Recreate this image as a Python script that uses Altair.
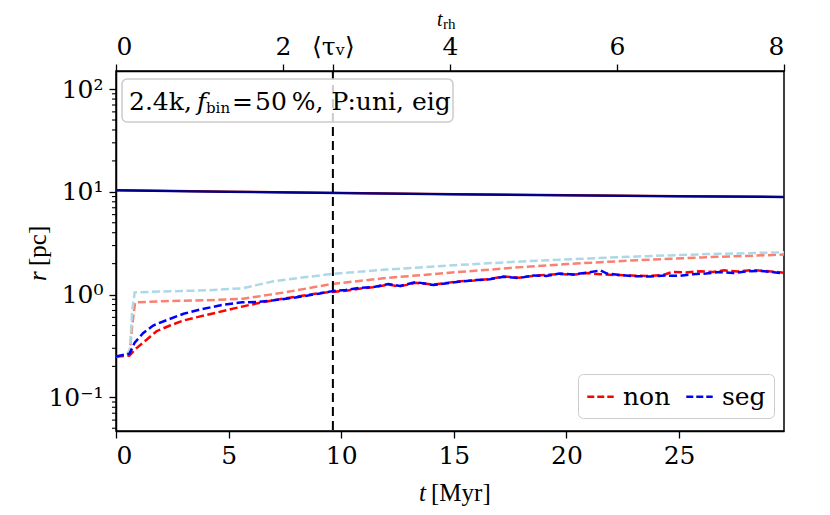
import altair as alt
import pandas as pd

# ---------------- data ----------------
T_MAX = 29.66          # Myr, right edge of the plot
TRH_MAX = 8            # top axis, in units of t_rh
TAU_V = 9.63           # Myr, vertical dashed line <tau_v>

t_solid = [0, 5, 10, 15, 20, 25, 29.66]
r_solid_non = [10.4, 10.05, 9.75, 9.5, 9.3, 9.1, 8.95]
r_solid_seg = [10.35, 10.0, 9.7, 9.45, 9.25, 9.05, 8.9]

t_outer_seg = [0, 0.45, 0.62, 0.72, 0.83, 2, 4, 5.6, 7, 9.6, 12, 14.8, 18, 21, 24.3, 27, 29.66]
r_outer_seg = [0.25, 0.255, 0.29, 0.7, 1.05, 1.07, 1.1, 1.15, 1.35, 1.59, 1.75, 1.92, 2.1, 2.25, 2.4, 2.5, 2.58]

t_outer_non = [0, 0.6, 0.72, 0.85, 2, 4, 5.65, 7.5, 9.6, 12, 14.8, 18, 20, 22.8, 26, 29.66]
r_outer_non = [0.25, 0.26, 0.5, 0.84, 0.86, 0.88, 0.91, 1.05, 1.27, 1.45, 1.63, 1.85, 1.98, 2.14, 2.3, 2.45]

t_core_non = [0, 0.6, 0.9, 1.4, 1.8, 2.4, 3.0, 3.7, 4.5, 5.2, 5.9, 6.6, 7.4, 8.2, 9.0, 9.6,
              10.2, 10.8, 11.4, 12.1, 12.6, 13.3, 14.1, 14.7, 15.3, 15.9, 16.6, 17.2, 17.9,
              18.5, 19.1, 19.7, 20.3, 20.9, 21.5, 22.2, 22.9, 23.6, 24.3, 24.7, 25.3, 25.9,
              26.5, 27.0, 27.6, 28.2, 28.8, 29.3, 29.66]
r_core_non = [0.25, 0.255, 0.3, 0.37, 0.44, 0.5, 0.56, 0.61, 0.67, 0.73, 0.79, 0.85, 0.91, 0.97,
              1.03, 1.06, 1.09, 1.14, 1.18, 1.25, 1.2, 1.3, 1.25, 1.3, 1.35, 1.37, 1.42, 1.5,
              1.46, 1.52, 1.55, 1.59, 1.56, 1.62, 1.58, 1.55, 1.53, 1.52, 1.55, 1.66, 1.64,
              1.69, 1.66, 1.72, 1.68, 1.73, 1.7, 1.66, 1.63]

t_core_seg = [0, 0.6, 0.83, 1.2, 1.65, 2.3, 3.0, 3.8, 4.8, 5.6, 6.3, 7.0, 7.7, 8.4, 9.0, 9.6,
              10.2, 10.8, 11.5, 12.1, 12.6, 13.3, 14.1, 14.7, 15.3, 15.9, 16.6, 17.2, 17.9,
              18.5, 19.1, 19.7, 20.3, 20.9, 21.5, 21.8, 22.4, 23.0, 23.7, 24.4, 25.0, 25.6,
              26.2, 26.8, 27.4, 28.0, 28.6, 29.2, 29.66]
r_core_seg = [0.25, 0.266, 0.34, 0.42, 0.5, 0.57, 0.65, 0.72, 0.8, 0.84, 0.85, 0.88, 0.92, 0.97,
              1.02, 1.08, 1.11, 1.16, 1.19, 1.27, 1.21, 1.32, 1.24, 1.29, 1.34, 1.38, 1.41,
              1.49, 1.45, 1.53, 1.52, 1.6, 1.57, 1.63, 1.72, 1.6, 1.55, 1.51, 1.5, 1.53, 1.52,
              1.58, 1.6, 1.66, 1.62, 1.68, 1.7, 1.65, 1.6]

series_names = ["non", "seg", "non_outer", "seg_outer", "non_solid", "seg_solid"]
series_colors = ["#ff0000", "#0000ff", "#fa8072", "#add8e6", "#8b0000", "#00008b"]

x_ticks = [0, 5, 10, 15, 20, 25]
y_ticks = [0.1, 1, 10, 100]
trh_ticks = [0, 2, 4, 6, 8]
minor_y = [0.05, 0.06, 0.07, 0.08, 0.09,
           0.2, 0.3, 0.4, 0.5, 0.6, 0.7, 0.8, 0.9,
           2, 3, 4, 5, 6, 7, 8, 9,
           20, 30, 40, 50, 60, 70, 80, 90]

# ---------------- build ----------------
FONT = "DejaVu Serif"
MATH = "Liberation Serif"
FS = 25

frames = []
for name, t, r in [("non_solid", t_solid, r_solid_non), ("seg_solid", t_solid, r_solid_seg),
                   ("non_outer", t_outer_non, r_outer_non), ("seg_outer", t_outer_seg, r_outer_seg),
                   ("non", t_core_non, r_core_non), ("seg", t_core_seg, r_core_seg)]:
    frames.append(pd.DataFrame({"series": name, "t": t, "r": r}))
df = pd.concat(frames, ignore_index=True)

x_enc = alt.X("t:Q", scale=alt.Scale(domain=[0, T_MAX], nice=False, zero=False),
              axis=alt.Axis(values=x_ticks, title=None, format="d", labelFont=FONT))
y_axis = alt.Axis(values=y_ticks, title=None, labelFont=FONT,
                  labelExpr="datum.value >= 99 ? '10²' : datum.value >= 9 ? '10¹' : datum.value >= 0.9 ? '10⁰' : '10⁻¹'")
y_scale = alt.Scale(type="log", domain=[0.047, 150], nice=False)
y_enc = alt.Y("r:Q", scale=y_scale, axis=y_axis)
color_enc = alt.Color("series:N",
                      scale=alt.Scale(domain=series_names, range=series_colors),
                      legend=alt.Legend(values=["non", "seg"], title=None, orient="none",
                                        legendX=462, legendY=303, direction="horizontal",
                                        columns=2, symbolType="stroke", symbolSize=700,
                                        symbolStrokeWidth=2.5, symbolDash=[7, 3],
                                        labelFont=FONT, labelFontSize=FS, labelColor="black",
                                        labelOffset=8, columnPadding=10, padding=8,
                                        fillColor="white", strokeColor="#cccccc",
                                        cornerRadius=5))


def line(name, dashed):
    kw = dict(strokeWidth=2.5 if dashed else 2.2, clip=True)
    if dashed:
        kw["strokeDash"] = [8, 3.5]
    return (alt.Chart(df).transform_filter(alt.datum.series == name)
            .mark_line(**kw).encode(x=x_enc, y=y_enc, color=color_enc))


minor = (alt.Chart(pd.DataFrame({"r": minor_y}))
         .mark_rule(color="black", strokeWidth=1.1)
         .encode(y=alt.Y("r:Q", scale=y_scale, axis=y_axis), x=alt.value(0), x2=alt.value(-4)))

inner = alt.layer(
    line("non_solid", False), line("seg_solid", False),
    line("non_outer", True), line("seg_outer", True),
    line("non", True), line("seg", True), minor,
)

tau_trh = TAU_V / (T_MAX / TRH_MAX)
vline = (alt.Chart(pd.DataFrame({"trh": [tau_trh]}))
         .mark_rule(color="black", strokeDash=[9, 5], strokeWidth=2)
         .encode(x=alt.X("trh:Q", scale=alt.Scale(domain=[0, TRH_MAX], nice=False, zero=False),
                         axis=alt.Axis(orient="top", values=trh_ticks + [tau_trh], title=None,
                                       labelFont=FONT,
                                       labelExpr=f"abs(datum.value - {tau_trh:.4f}) < 0.01 ? '⟨τᵥ⟩' : '' + datum.value"))))

one = pd.DataFrame({"a": [0]})


def txt(s, x, y, size=FS, font=FONT, style="normal", angle=0, align="left"):
    return (alt.Chart(one).mark_text(text=s, font=font, fontSize=size, fontStyle=style,
                                     angle=angle, align=align, baseline="alphabetic", color="black")
            .encode(x=alt.value(x), y=alt.value(y)))


box = (alt.Chart(one).mark_rect(fill="white", fillOpacity=0.8, stroke="#cccccc", strokeWidth=1.5,
                                cornerRadius=5)
       .encode(x=alt.value(6), x2=alt.value(337), y=alt.value(8), y2=alt.value(51)))

chart = alt.layer(
    inner, vline, box,
    txt("2.4k,", 13, 39),
    txt("f", 81, 39, style="italic"),
    txt("bin", 90, 42, size=15),
    txt("=", 116, 39),
    txt("50\u2009%, P:uni, eig", 139, 39),
    txt("t", 303, 430, font=MATH, style="italic"),
    txt("[Myr]", 315, 430, font=MATH),
    txt("t", 321, -45, size=20, font=MATH, style="italic"),
    txt("rh", 327, -42, font=MATH, size=15),
    txt("r", -70, 210, font=MATH, style="italic", angle=270),
    txt("[pc]", -70, 195, font=MATH, angle=270),
).resolve_scale(x="independent").properties(
    width=668, height=360,
    autosize=alt.AutoSizeParams(type="none"),
    padding={"left": 108, "top": 63, "right": 38, "bottom": 76},
).configure_view(stroke="black", strokeWidth=1.5).configure_axis(
    grid=False, domainColor="black", domainWidth=1.5, tickColor="black", tickWidth=1.3,
    tickSize=7, labelFont=FONT, labelFontSize=FS, labelColor="black", labelPadding=5,
).configure_axisLeft(labelPadding=6).configure_legend(labelFont=FONT)

chart.save("out.html", embed_options={"renderer": "svg", "actions": False})
